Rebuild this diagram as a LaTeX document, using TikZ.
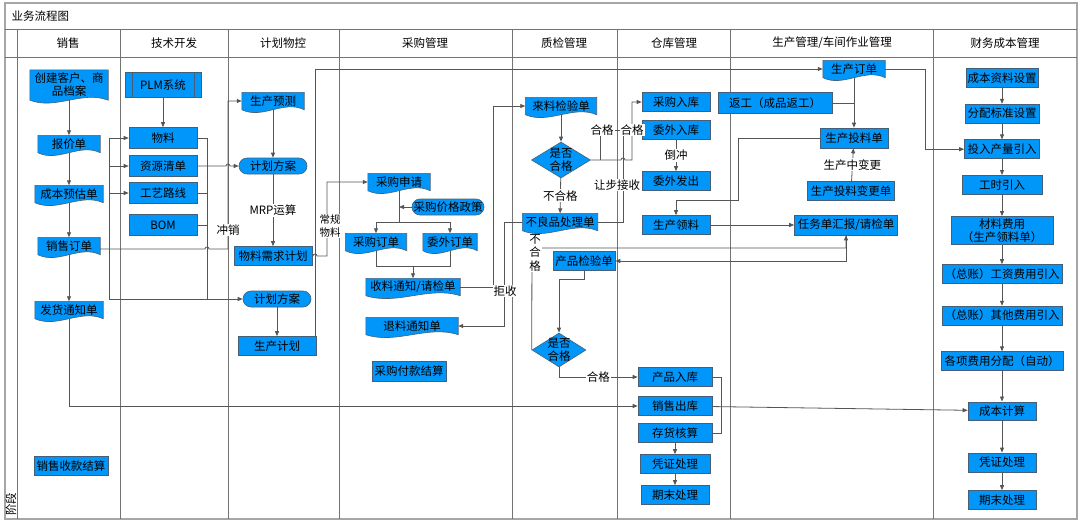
\documentclass[tikz,border=0pt]{standalone}
\usepackage{fontspec}
\setmainfont{Noto Sans CJK SC}
\usepackage{tikz}
\usetikzlibrary{shapes.geometric, positioning, calc, backgrounds}
\usetikzlibrary{arrows.meta}
\usepackage{xcolor}

\definecolor{boxblue}{RGB}{0,150,250}
\definecolor{boxline}{RGB}{70,95,120}
\definecolor{wire}{RGB}{85,85,85}
\newcommand{\boxfont}{\fontsize{11.5}{13}\selectfont}

\begin{document}
\begin{tikzpicture}[
                x=1pt, y=-1pt,
                box/.style={rectangle, draw=boxline, line width=0.6pt, fill=boxblue, inner sep=1pt, minimum height=19pt, align=center, font=\boxfont},
                doc/.style={rectangle, inner sep=1pt, minimum height=17pt, align=center, font=\boxfont},
                term/.style={box, rounded corners=8pt, minimum height=16pt},
                decision/.style={diamond, draw=boxline, line width=0.6pt, fill=boxblue, aspect=1.6, inner sep=-3pt, align=center, font=\boxfont},
                plm/.style={box, path picture={
                    \draw[boxline, line width=0.6pt] ([xshift=7pt]path picture bounding box.north west) -- ([xshift=7pt]path picture bounding box.south west)
                        ([xshift=-7pt]path picture bounding box.north east) -- ([xshift=-7pt]path picture bounding box.south east);}},
                docshape/.style={draw=boxline, line width=0.6pt, fill=boxblue},
                head/.style={font=\boxfont},
                tag/.style={fill=white, inner sep=1pt, font=\boxfont},
                frame/.style={draw=black!35, line width=1.5pt},
                lane/.style={draw=black!55, line width=0.8pt},
                line/.style={draw=wire, line width=0.8pt, -{Triangle[length=5pt, width=4pt]}},
                joint/.style={draw=wire, line width=0.8pt}
            ]
                \useasboundingbox (0,0) rectangle (1080,522);

                % Swimlane frame
                \begin{scope}[on background layer]
                    \draw[frame] (5,3) rectangle (1077,519);
                    \draw[lane] (5,29) -- (1077,29);
                    \draw[lane] (5,57) -- (1077,57);
                    \draw[lane] (17,29) -- (17,519);
                    \foreach \x in {120,228,339,512,617,730,933}
                        \draw[lane] (\x,29) -- (\x,519);
                \end{scope}
                \node[head, anchor=west] (title) at (8,16) {业务流程图};
                \node[head, rotate=90, anchor=west, inner sep=1pt] (stage) at (11,517) {阶段};
                \foreach \x/\t [count=\i] in {68/销售, 174/技术开发, 283/计划物控, 425/采购管理, 564/质检管理, 674/仓库管理, 832/{生产管理/车间作业管理}, 1005/财务成本管理}
                    \node[head] (head\i) at (\x,43) {\t};

                % Lane: Sales
                \node[doc, minimum width=78pt, minimum height=30pt] (cust) at (69,85) {创建客户、商\\品档案};
                \node[doc, minimum width=62pt] (quote) at (69,144) {报价单};
                \node[doc, minimum width=68pt] (costest) at (69,194) {成本预估单};
                \node[doc, minimum width=62pt] (sorder) at (69,246) {销售订单};
                \node[doc, minimum width=68pt] (ship) at (69,310) {发货通知单};
                \node[box, minimum width=74pt] (collect) at (71,466) {销售收款结算};

                % Lane: R&D
                \node[plm, minimum width=76pt, minimum height=25pt] (plm) at (163,85) {PLM系统};
                \node[box, minimum width=68pt, minimum height=21pt] (mat) at (163,138) {物料};
                \node[box, minimum width=68pt, minimum height=21pt] (res) at (163,166) {资源清单};
                \node[box, minimum width=68pt, minimum height=21pt] (route) at (163,193) {工艺路线};
                \node[box, minimum width=68pt, minimum height=21pt] (bom) at (163,225) {BOM};

                % Lane: Planning
                \node[doc, minimum width=62pt] (fcast) at (273,101) {生产预测};
                \node[term, minimum width=68pt] (plan1) at (273,166) {计划方案};
                \node[box, minimum width=78pt] (mrpp) at (273,256) {物料需求计划};
                \node[term, minimum width=68pt] (plan2) at (277,299) {计划方案};
                \node[box, minimum width=78pt] (pplan) at (277,346) {生产计划};

                % Lane: Purchasing
                \node[doc, minimum width=62pt] (preq) at (399,182) {采购申请};
                \node[term, minimum width=72pt] (price) at (448,207) {采购价格政策};
                \node[doc, minimum width=61pt] (po) at (376,242) {采购订单};
                \node[doc, minimum width=54pt] (oo) at (450,242) {委外订单};
                \node[doc, minimum width=94pt] (recv) at (413,287) {收料通知/请检单};
                \node[doc, minimum width=92pt] (ret) at (412,326) {退料通知单};
                \node[box, minimum width=74pt, minimum height=20pt] (pay) at (409,371) {采购付款结算};

                % Lane: Quality
                \node[doc, minimum width=71pt] (iqc) at (561,106) {来料检验单};
                \node[decision, minimum width=59pt, minimum height=36pt] (ok1) at (561,160) {是否\\合格};
                \node[doc, minimum width=75pt] (ng) at (560,222) {不良品处理单};
                \node[box, minimum width=62pt] (fqc) at (584,261) {产品检验单};
                \node[decision, minimum width=54pt, minimum height=34pt] (ok2) at (559,350) {是否\\合格};

                % Lane: Warehouse
                \node[box, minimum width=68pt] (pin) at (676,102) {采购入库};
                \node[box, minimum width=68pt] (oin) at (676,130) {委外入库};
                \node[box, minimum width=68pt] (oout) at (676,181) {委外发出};
                \node[box, minimum width=68pt] (pick) at (676,225) {生产领料};
                \node[box, minimum width=74pt] (fin) at (675,377) {产品入库};
                \node[box, minimum width=74pt] (sout) at (675,406) {销售出库};
                \node[box, minimum width=74pt] (inv) at (675,433) {存货核算};
                \node[box, minimum width=70pt] (vch1) at (675,464) {凭证处理};
                \node[box, minimum width=68pt] (close1) at (675,495) {期末处理};

                % Lane: Production / shop floor
                \node[doc, minimum width=62pt] (mo) at (854,69) {生产订单};
                \node[box, minimum width=114pt, minimum height=21pt] (rework) at (775,103) {返工（成品返工）};
                \node[box, minimum width=68pt, minimum height=20pt] (issue) at (854,138) {生产投料单};
                \node[box, minimum width=87pt] (chg) at (851,191) {生产投料变更单};
                \node[box, minimum width=103pt, minimum height=20pt] (rpt) at (846,225) {任务单汇报/请检单};

                % Lane: Cost accounting
                \node[box, minimum width=72pt] (c1) at (1002,78) {成本资料设置};
                \node[box, minimum width=74pt, below=16pt of c1] (c2) {分配标准设置};
                \node[box, minimum width=75pt, below=16pt of c2] (c3) {投入产量引入};
                \node[box, minimum width=80pt, below=16pt of c3] (c4) {工时引入};
                \node[box, minimum width=102pt, minimum height=28pt, below=21.5pt of c4] (c5) {材料费用\\（生产领料单）};
                \node[box, minimum width=120pt, below=19.5pt of c5] (c6) {（总账）工资费用引入};
                \node[box, minimum width=120pt, below=22pt of c6] (c7) {（总账）其他费用引入};
                \node[box, minimum width=122pt, below=26pt of c7] (c8) {各项费用分配（自动）};
                \node[box, minimum width=68pt, minimum height=18pt, below=30.5pt of c8] (c9) {成本计算};
                \node[box, minimum width=68pt, below=32.5pt of c9] (c10) {凭证处理};
                \node[box, minimum width=68pt, below=18pt of c10] (c11) {期末处理};

                % Document shapes (wavy bottom)
                \begin{scope}[on background layer]
                    \foreach \n in {cust,quote,costest,sorder,ship,fcast,preq,po,oo,recv,ret,iqc,ng,mo}
                        \draw[docshape] (\n.south west) -- (\n.north west) -- (\n.north east) -- (\n.south east)
                            .. controls ($(\n.south east)!0.33!(\n.south west)+(0pt,10pt)$) and ($(\n.south east)!0.67!(\n.south west)+(0pt,-10pt)$) .. (\n.south west) -- cycle;
                \end{scope}

                % Sales flow
                \path[line] (cust) -- (quote);
                \path[line] (quote) -- (costest);
                \path[line] (costest) -- (sorder);
                \path[line] (sorder) -- (ship);
                \path[line] (ship.south) |- (sout.west);
                \path[line] (sout) -- (c9);
                \path[line] ([yshift=-3pt]sorder.east) -- (205,249) arc[start angle=180, end angle=0, radius=2pt] -- (228,249) |- (fcast.west);
                \node[tag] at (228,230) {冲销};
                \coordinate (fork) at (109,249);
                \path[line] (fork) |- (mat.west);
                \path[line] (fork |- res.west) -- (res.west);
                \path[line] (fork |- route.west) -- (route.west);
                \path[line] (fork) |- (plan2.west);

                % R&D and planning flow
                \path[line] (plm) -- (mat);
                \coordinate (merge) at (207,299);
                \path[joint] (mat.east) -| (merge);
                \path[joint] (route.east) -- (route.east -| merge);
                \path[joint] (bom.east) -- (bom.east -| merge);
                \path[line] (res.east) -- (226,166) arc[start angle=180, end angle=0, radius=2pt] -- (plan1.west);
                \path[line] (fcast) -- (plan1);
                \path[line] (plan1) -- node[tag] {MRP运算} (mrpp);
                \path[line] (plan2) -- (pplan);
                \path[line] (mrpp.east) -- (313,256) arc[start angle=180, end angle=0, radius=2pt] -- (327,256) |- (preq.west);
                \node[tag, align=center, font=\fontsize{10.5}{12.5}\selectfont] at (330,226) {常规\\物料};
                \path[line] ([xshift=-1pt]pplan.north east) |- (mo.west);

                % Purchasing flow
                \coordinate (split) at (399,222);
                \path[joint] (preq) -- (split);
                \path[line] (split) -| (po.north);
                \path[line] (split) -| (oo.north);
                \path[line] (price.west) -- (price.west -| split);
                \coordinate (join) at (413,266);
                \path[joint] (po.south) |- (join);
                \path[joint] (oo.south) |- (join);
                \path[line] (join) -- (recv.north);
                \path[line] (recv.east) -- (493,287) |- (iqc.west);
                \path[line] (ng.west) -- (504,222) |- (ret.east);
                \node[tag] at (505,291) {拒收};

                % Quality flow
                \path[line] (iqc) -- (ok1);
                \path[line] (ok1) -- node[tag] {不合格} (ng);
                \path[line] (ok1.east) -- (621,160) arc[start angle=180, end angle=0, radius=2pt] -- (632,160) |- (pin.west);
                \coordinate (pass) at (600,160);
                \path[line] (pass) |- (oin.west);
                \coordinate (yield) at (623,130);
                \path[joint] (ng.east) -| (yield);
                \node[tag] at (602,130) {合格};
                \node[tag] at (632,130) {合格};
                \node[tag] at (617,185) {让步接收};
                \path[line] (fqc.south) -- ++(0,9) -| (ok2.north);
                \path[line] (ok2.west) -- (532,248) -| (rpt.south);
                \path[line] (rpt.south) |- (fqc.east);
                \node[tag, align=center, font=\fontsize{11.5}{13.5}\selectfont] at (535,253) {不\\合\\格};
                \path[line] (ok2.south) |- node[tag, pos=0.75] {合格} (fin.west);

                % Warehouse flow
                \path[line] (oin) -- node[tag] {倒冲} (oout);
                \path[joint] (fin.east) -- ++(9,0) |- (inv.east);
                \path[line] (inv) -- (vch1);
                \path[line] (vch1) -- (close1);

                % Production flow
                \path[line] (mo) -- (issue);
                \path[joint] (rework.east) -- (rework.east -| mo.south);
                \path[line] (chg) -- node[tag] {生产中变更} (issue);
                \path[line] (issue.west) -| (738,200) -| (pick.north);
                \path[line] (pick) -- (rpt);
                \path[line] (mo.east) -- (925,69) |- (c3.west);

                % Cost accounting flow
                \foreach \a/\b in {c1/c2, c2/c3, c3/c4, c4/c5, c5/c6, c6/c7, c7/c8, c8/c9, c9/c10, c10/c11}
                    \path[line] (\a) -- (\b);
            \end{tikzpicture}
\end{document}
